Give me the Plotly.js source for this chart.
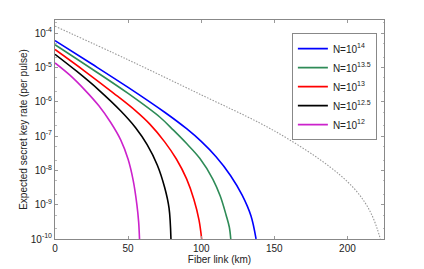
<!DOCTYPE html>
<html><head><meta charset="utf-8">
<script src="https://cdn.plot.ly/plotly-3.0.1.min.js"></script>
<style>html,body{margin:0;padding:0;background:#fff}#c{width:424px;height:269px}</style>
</head><body><div id="c"></div>
<script>
const seriesNames = ["N=10<sup>14</sup>","N=10<sup>13.5</sup>","N=10<sup>13</sup>","N=10<sup>12.5</sup>","N=10<sup>12</sup>"];
const kmN14 = [0, 25, 50, 75, 90, 100, 110, 120, 128, 134, 137.5];
const logN14 = [-4.22, -4.895, -5.583, -6.308, -6.788, -7.158, -7.598, -8.148, -8.724, -9.324, -10];
const kmN135 = [0, 25, 50, 72, 81, 90, 99, 108, 113, 117, 119.2, 120.2];
const logN135 = [-4.34, -5.04, -5.76, -6.46, -6.83, -7.22, -7.65, -8.26, -8.75, -9.3, -9.65, -10];
const kmN13 = [0, 20, 40, 55, 65, 75, 83, 90, 95, 98.5, 100.3];
const logN13 = [-4.48, -5.1, -5.75, -6.26, -6.66, -7.17, -7.67, -8.25, -8.85, -9.45, -10];
const kmN125 = [0, 15, 30, 45, 55, 63, 70, 75, 78, 79.3];
const logN125 = [-4.62, -5.12, -5.66, -6.27, -6.75, -7.25, -7.85, -8.5, -9.1, -10];
const kmN12 = [0, 10, 20, 30, 38, 45, 50, 53.5, 56, 57.2, 57.8];
const logN12 = [-4.87, -5.22, -5.64, -6.12, -6.6, -7.12, -7.68, -8.3, -9.0, -9.5, -10];
const kmRef = [0, 50, 100, 140, 160, 180, 195, 205, 212, 217, 220.5, 222.5];
const logRef = [-3.80, -4.78, -5.8, -6.62, -7.1, -7.65, -8.14, -8.55, -8.94, -9.33, -9.72, -10];
const yTickVals = [-10,-9,-8,-7,-6,-5,-4];
const xTickVals = [0,50,100,150,200];

const colors = ["#0000ff","#2e8b57","#ff0000","#000000","#cc22cc"];
const kms = [kmN14,kmN135,kmN13,kmN125,kmN12];
const logs = [logN14,logN135,logN13,logN125,logN12];
const pw = a => a.map(v => Math.pow(10, v));
const traces = kms.map((k,i)=>({x:k,y:pw(logs[i]),mode:'lines',name:seriesNames[i],
  line:{color:colors[i],width:1.6,shape:'spline',smoothing:1}}));
traces.push({x:kmRef,y:pw(logRef),mode:'lines',showlegend:false,
  line:{color:'#999',width:1.1,dash:'1.5px,1.5px',shape:'spline',smoothing:1}});

const font = {family:'"Liberation Sans", Arial, sans-serif', size:10, color:'#222'};
const layout = {
  width:424,height:269,margin:{l:55,r:40,t:20,b:30},
  paper_bgcolor:'#fff',plot_bgcolor:'#fff',font:font,showlegend:true,
  xaxis:{range:[0,225],tickvals:xTickVals,ticks:'inside',ticklen:3,tickcolor:'#999',
    showline:true,linecolor:'#888',mirror:'ticks',showgrid:false,zeroline:false,
    title:{text:'Fiber link (km)',font:font,standoff:0}},
  yaxis:{type:'log',range:[-10,-3.62],tickvals:pw(yTickVals),
    ticktext:yTickVals.map(v=>'10<sup>'+v+'</sup>'),ticks:'inside',ticklen:3,tickcolor:'#999',
    minor:{ticks:'inside',ticklen:1.5,tickcolor:'#bbb',showgrid:false},
    showline:true,linecolor:'#888',mirror:'ticks',showgrid:false,zeroline:false,
    title:{text:'Expected secret key rate (per pulse)',font:font,standoff:1}},
  legend:{x:0.72,y:0.94,xanchor:'left',yanchor:'top',bordercolor:'#888',borderwidth:1,
    bgcolor:'#fff',font:{family:font.family,size:10,color:'#222'},tracegroupgap:0,itemwidth:30}
};
Plotly.newPlot('c',traces,layout,{staticPlot:true});
</script></body></html>
